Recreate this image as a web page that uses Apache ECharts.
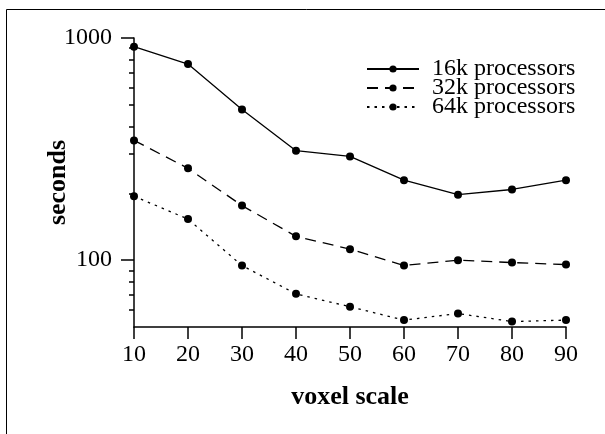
<!DOCTYPE html>
<html>
<head>
<meta charset="utf-8">
<script src="https://cdn.jsdelivr.net/npm/echarts@6/dist/echarts.min.js"></script>
<style>html,body{margin:0;padding:0;background:#fff}#c{width:605px;height:434px}</style>
</head>
<body>
<div id="c"></div>
<script>
const xValues = [10, 20, 30, 40, 50, 60, 70, 80, 90];
const seriesNames = ['16k processors', '32k processors', '64k processors'];
const s16k = [914, 763, 477, 311, 293, 229, 197, 208, 229];
const s32k = [346, 259, 176, 128, 112, 94.6, 100, 97.5, 95.5];
const s64k = [194, 153, 94.5, 70.5, 61.7, 53.7, 57.5, 52.9, 53.7];
const yMajorTicks = [100, 1000];
const yMinorTicks = [60, 70, 80, 90, 200, 300, 400, 500, 600, 700, 800, 900];

const FONT = 'Liberation Serif';
const pairs = arr => arr.map((v, i) => [xValues[i], v]);
const chart = echarts.init(document.getElementById('c'), null, {renderer: 'canvas'});

const lineTypes = ['solid', [11, 7], [2.5, 5]];
const seriesData = [s16k, s32k, s64k];

chart.setOption({
  animation: false,
  backgroundColor: '#fff',
  graphic: [{
    type: 'rect', z: 100, silent: true,
    shape: {x: 6.5, y: 9.5, width: 1000, height: 1000},
    style: {fill: 'none', stroke: '#000', lineWidth: 1}
  }],
  grid: {left: 134, right: 39, top: 38, bottom: 107},
  legend: {
    orient: 'vertical', left: 366, top: 57, padding: 0,
    itemWidth: 52, itemHeight: 9, itemGap: -5,
    data: seriesNames,
    textStyle: {fontFamily: FONT, fontSize: 24, color: '#000', lineHeight: 19, padding: [0, 0, 0, 8]}
  },
  xAxis: {
    type: 'value', min: 10, max: 90, interval: 10,
    name: 'voxel scale', nameLocation: 'middle', nameGap: 57, nameMoveOverlap: false,
    nameTextStyle: {fontFamily: FONT, fontSize: 26, fontWeight: 'bold', color: '#000'},
    axisLine: {show: true, lineStyle: {color: '#000', width: 1.5}},
    axisTick: {show: true, inside: false, length: 12, lineStyle: {color: '#000', width: 1.5}},
    axisLabel: {fontFamily: FONT, fontSize: 24, color: '#000', margin: 16},
    splitLine: {show: false}
  },
  yAxis: [{
    type: 'log', logBase: 10, min: 50, max: 1000,
    name: 'seconds', nameLocation: 'middle', nameGap: 63, nameMoveOverlap: false,
    nameTextStyle: {fontFamily: FONT, fontSize: 26, fontWeight: 'bold', color: '#000'},
    axisLine: {show: true, lineStyle: {color: '#000', width: 1.5}},
    axisTick: {show: true, length: 13, customValues: yMajorTicks, lineStyle: {color: '#000', width: 1.5}},
    axisLabel: {fontFamily: FONT, fontSize: 24, color: '#000', margin: 22, customValues: yMajorTicks,
      formatter: v => String(Math.round(v))},
    splitLine: {show: false}
  }, {
    type: 'log', logBase: 10, min: 50, max: 1000, position: 'left',
    axisLine: {show: false},
    axisTick: {show: true, length: 5, customValues: yMinorTicks, lineStyle: {color: '#000', width: 1.5}},
    axisLabel: {show: false},
    splitLine: {show: false}
  }],
  series: seriesNames.map((name, i) => ({
    name: name, type: 'line', yAxisIndex: 0,
    data: pairs(seriesData[i]),
    symbol: 'circle', symbolSize: 8,
    itemStyle: {color: '#000'},
    lineStyle: {color: '#000', width: 1.3, type: lineTypes[i]}
  }))
});
</script>
</body>
</html>
